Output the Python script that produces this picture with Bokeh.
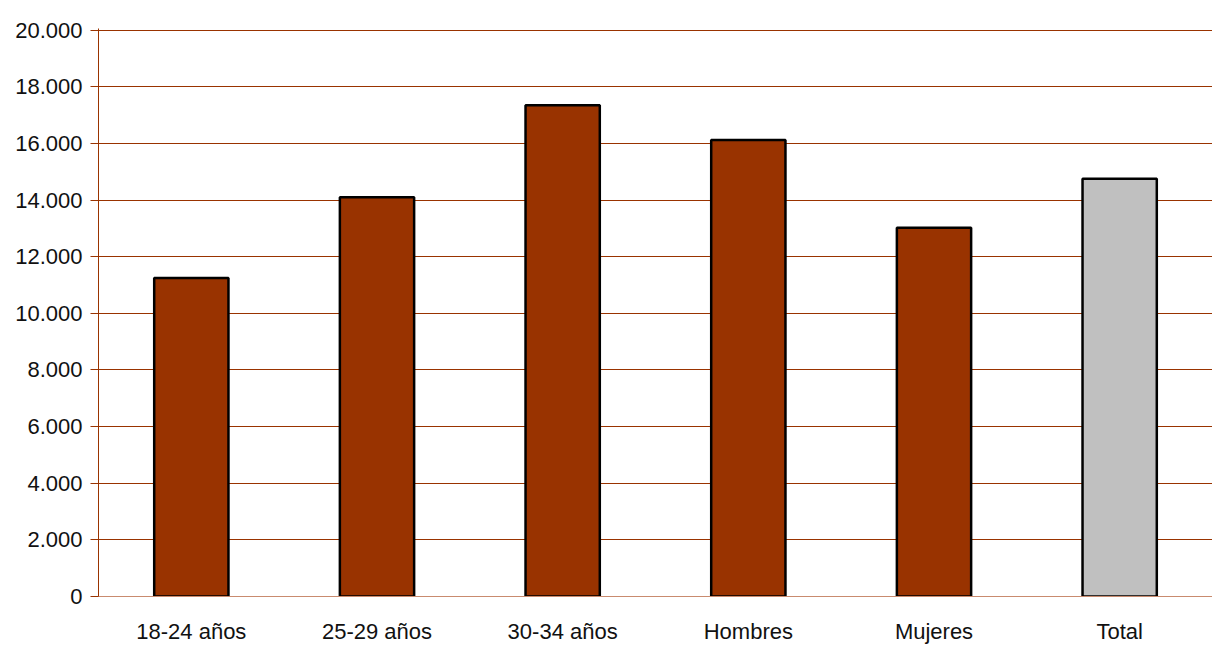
from bokeh.plotting import figure
from bokeh.models import ColumnDataSource, Range1d, FixedTicker, CustomJSTickFormatter
from bokeh.embed import file_html
from bokeh.resources import INLINE

categories = ["18-24 años", "25-29 años", "30-34 años", "Hombres", "Mujeres", "Total"]
values = [11250, 14100, 17350, 16120, 13020, 14750]
colors = ["#993300", "#993300", "#993300", "#993300", "#993300", "#C0C0C0"]
y_ticks = [0, 2000, 4000, 6000, 8000, 10000, 12000, 14000, 16000, 18000, 20000]

src = ColumnDataSource(dict(cat=categories, val=values, col=colors))

FONT = "Liberation Sans"

p = figure(x_range=categories, y_range=Range1d(0, 20060), width=1212, height=646,
           output_backend="svg", toolbar_location=None,
           min_border_left=98, min_border_top=28, min_border_right=0, min_border_bottom=49)
p.outline_line_color = None
p.background_fill_color = "white"

p.vbar(x="cat", top="val", width=0.4, source=src, fill_color="col",
       line_color="black", line_width=2.5)

p.yaxis.ticker = FixedTicker(ticks=y_ticks)
p.yaxis.formatter = CustomJSTickFormatter(code="""
    return Math.round(tick).toString().replace(/\\B(?=(\\d{3})+(?!\\d))/g, ".");
""")
p.ygrid.ticker = FixedTicker(ticks=y_ticks)
p.ygrid.grid_line_color = "#993300"
p.ygrid.grid_line_width = 1
p.xgrid.grid_line_color = None

for ax in (p.xaxis, p.yaxis):
    ax.axis_line_color = "#993300"
    ax.axis_line_width = 1
    ax.major_label_text_font = FONT
    ax.major_label_text_font_size = "22px"
    ax.major_label_text_color = "#111111"
    ax.minor_tick_line_color = None

p.yaxis.major_tick_line_color = "#993300"
p.yaxis.major_tick_out = 8
p.yaxis.major_tick_in = 0
p.yaxis.major_label_standoff = 8

p.xaxis.major_tick_line_color = None
p.xaxis.axis_line_color = "#C98B6F"
p.xaxis.major_label_standoff = 16

open("out.html", "w").write(file_html(p, INLINE))
